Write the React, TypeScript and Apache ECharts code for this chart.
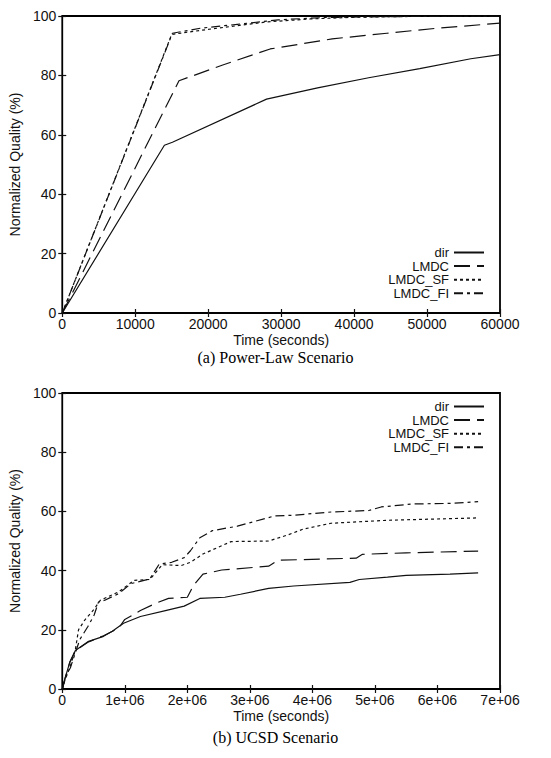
import React, { useEffect, useRef } from "react";
import * as echarts from "echarts";

// ---------- data ----------
const seriesNames = ["dir", "LMDC", "LMDC_SF", "LMDC_FI"];

// (a) Power-Law scenario: [time (s), normalized quality %]
const plawDir: [number, number][] = [
  [0, 0], [14000, 56.5], [15100, 57.5], [28000, 72], [35000, 75.8],
  [42000, 79.2], [49000, 82.3], [56000, 85.6], [60000, 87],
];
const plawLMDC: [number, number][] = [
  [0, 0], [16000, 78.2], [22000, 83.5], [28500, 88.9], [37000, 92.3],
  [44500, 94.2], [51000, 95.8], [60000, 97.6],
];
const plawSF: [number, number][] = [
  [0, 0], [15000, 93.8], [20000, 95.5], [28000, 98], [34000, 99],
  [40000, 99.6], [50000, 99.9], [60000, 100],
];
const plawFI: [number, number][] = [
  [0, 0], [15100, 94.2], [19000, 95.9], [24000, 97.2], [29600, 98.7],
  [36000, 99.5], [45000, 99.8], [60000, 100],
];

// (b) UCSD scenario
const ucsdDir: [number, number][] = [
  [0, 0], [0.05e6, 4], [0.12e6, 9], [0.21e6, 13], [0.41e6, 16], [0.66e6, 17.8],
  [0.8e6, 19.5], [0.98e6, 22.2], [1.25e6, 24.5], [1.65e6, 26.5], [1.95e6, 28],
  [2.2e6, 30.6], [2.6e6, 31], [2.85e6, 32], [3.3e6, 34], [3.7e6, 34.8],
  [4.6e6, 36], [4.75e6, 37], [5.2e6, 37.8], [5.5e6, 38.4], [6.2e6, 38.8],
  [6.65e6, 39.2],
];
const ucsdLMDC: [number, number][] = [
  [0, 0], [0.05e6, 4], [0.12e6, 9], [0.21e6, 13], [0.41e6, 15.8], [0.66e6, 18],
  [0.9e6, 20.5], [1.0e6, 23.5], [1.25e6, 26.5], [1.5e6, 29], [1.7e6, 30.6],
  [2.0e6, 31], [2.1e6, 35], [2.25e6, 38.8], [2.55e6, 40.2], [3.3e6, 41.5],
  [3.45e6, 43.5], [4.7e6, 44.2], [4.8e6, 45.5], [5.5e6, 46], [6.65e6, 46.6],
];
const ucsdSF: [number, number][] = [
  [0, 0], [0.03e6, 2.2], [0.13e6, 7.8], [0.21e6, 13.3], [0.26e6, 20],
  [0.36e6, 23.3], [0.5e6, 26.7], [0.61e6, 30], [0.9e6, 32.8], [1.15e6, 36.7],
  [1.4e6, 37], [1.6e6, 42], [1.9e6, 41.7], [2.05e6, 42.8], [2.25e6, 45.6],
  [2.7e6, 49.8], [3.3e6, 50], [3.6e6, 52], [3.85e6, 54], [4.3e6, 56],
  [5.2e6, 57], [6.65e6, 57.8],
];
const ucsdFI: [number, number][] = [
  [0, 0], [0.06e6, 4.4], [0.13e6, 7.2], [0.28e6, 16.7], [0.41e6, 21.1],
  [0.51e6, 25], [0.58e6, 29.4], [0.68e6, 30], [0.9e6, 32.2], [1.1e6, 35.6],
  [1.4e6, 37.2], [1.55e6, 42.2], [1.75e6, 42.8], [1.95e6, 44.4], [2.05e6, 46.7],
  [2.2e6, 51.1], [2.4e6, 53.5], [2.8e6, 55], [3.4e6, 58.5], [3.7e6, 58.7],
  [4.3e6, 59.8], [4.9e6, 60.3], [5.1e6, 61.5], [5.6e6, 62.5], [6.2e6, 62.7],
  [6.65e6, 63.3],
];

const yTicks = [0, 20, 40, 60, 80, 100];
const plawXTicks = [0, 10000, 20000, 30000, 40000, 50000, 60000];
const ucsdXTicks = [0, 1e6, 2e6, 3e6, 4e6, 5e6, 6e6, 7e6];

const xAxisTitle = "Time (seconds)";
const yAxisTitle = "Normalized Quality (%)";
const captionA = "(a) Power-Law Scenario";
const captionB = "(b) UCSD Scenario";

// ---------- styles ----------
const SANS = "'Liberation Sans', Arial, sans-serif";
const SERIF = "'Liberation Serif', 'Times New Roman', serif";
const INK = "#111";
const dashStyles: (string | number[])[] = ["solid", [16, 7], [3, 3], [9, 4, 3, 4]];

function fmtUcsd(v: number): string {
  if (v === 0) return "0";
  return `${Math.round(v / 1e6)}e+06`;
}

export default function App() {
  const ref = useRef<HTMLDivElement>(null);

  useEffect(() => {
    document.body.style.margin = "0";
    if (!ref.current) return;
    const chart = echarts.init(ref.current, undefined, { renderer: "svg" });

    const grids = [
      { left: 59, top: 16, width: 441, height: 297 },
      { left: 59, top: 393, width: 441, height: 296 },
    ];

    const tickStyle = { show: true, inside: true, length: 4, lineStyle: { color: INK, width: 1.2 } };
    const labelStyle = { color: INK, fontFamily: SANS, fontSize: 14 };

    const makeX = (gi: number, max: number, interval: number, fmt?: (v: number) => string) => [
      {
        type: "value", gridIndex: gi, min: 0, max, interval, position: "bottom",
        axisLine: { show: false }, axisTick: tickStyle, splitLine: { show: false },
        axisLabel: { ...labelStyle, margin: 4, formatter: fmt ? fmt : (v: number) => String(v) },
        name: xAxisTitle, nameLocation: "middle", nameGap: 20,
        nameTextStyle: { color: INK, fontFamily: SANS, fontSize: 14 },
      },
      {
        type: "value", gridIndex: gi, min: 0, max, interval, position: "top",
        axisLine: { show: false }, axisTick: tickStyle, splitLine: { show: false },
        axisLabel: { show: false },
      },
    ];
    const makeY = (gi: number) => [
      {
        type: "value", gridIndex: gi, min: yTicks[0], max: yTicks[yTicks.length - 1], interval: yTicks[1] - yTicks[0],
        position: "left", axisLine: { show: false }, axisTick: tickStyle, splitLine: { show: false },
        axisLabel: { ...labelStyle, margin: 6 },
        name: yAxisTitle, nameLocation: "middle", nameGap: 29,
        nameTextStyle: { color: INK, fontFamily: SANS, fontSize: 14 },
      },
      {
        type: "value", gridIndex: gi, min: yTicks[0], max: yTicks[yTicks.length - 1], interval: yTicks[1] - yTicks[0],
        position: "right", axisLine: { show: false }, axisTick: tickStyle, splitLine: { show: false },
        axisLabel: { show: false },
      },
    ];

    const plawData = [plawDir, plawLMDC, plawSF, plawFI];
    const ucsdData = [ucsdDir, ucsdLMDC, ucsdSF, ucsdFI];

    const series: any[] = [];
    [plawData, ucsdData].forEach((set, gi) => {
      set.forEach((d, i) => {
        series.push({
          type: "line",
          name: seriesNames[i],
          xAxisIndex: gi * 2,
          yAxisIndex: gi * 2,
          data: d,
          symbol: "none",
          showSymbol: false,
          silent: true,
          lineStyle: { color: INK, width: 1.2, type: dashStyles[i] },
          itemStyle: { color: INK },
          z: 3,
        });
      });
    });

    const legendBase = {
      orient: "vertical",
      align: "right",
      right: 66,
      padding: 0,
      itemWidth: 30,
      itemHeight: 10,
      selectedMode: false,
      data: seriesNames,
      itemStyle: { opacity: 0, borderWidth: 0 },
      textStyle: { color: INK, fontFamily: SANS, fontSize: 13 },
    };

    const option: any = {
      animation: false,
      backgroundColor: "#fff",
      grid: grids.map((g) => ({ ...g, show: true, borderColor: "#000", borderWidth: 1.8, backgroundColor: "transparent" })),
      xAxis: [
        ...makeX(0, plawXTicks[plawXTicks.length - 1], plawXTicks[1] - plawXTicks[0]),
        ...makeX(1, ucsdXTicks[ucsdXTicks.length - 1], ucsdXTicks[1] - ucsdXTicks[0], fmtUcsd),
      ],
      yAxis: [...makeY(0), ...makeY(1)],
      legend: [
        { ...legendBase, top: 246, itemGap: 0.6 },
        { ...legendBase, top: 400, itemGap: 0.6 },
      ],
      series,
      graphic: [
        {
          type: "text", left: "center", top: 349,
          style: { text: captionA, fill: "#000", font: `16px ${SERIF}` },
        },
        {
          type: "text", left: "center", top: 729,
          style: { text: captionB, fill: "#000", font: `16px ${SERIF}` },
        },
      ],
    };

    chart.setOption(option);
    return () => chart.dispose();
  }, []);

  return (
    <div
      ref={ref}
      style={{ position: "fixed", left: 0, top: 0, width: 551, height: 758, background: "#fff" }}
    />
  );
}
